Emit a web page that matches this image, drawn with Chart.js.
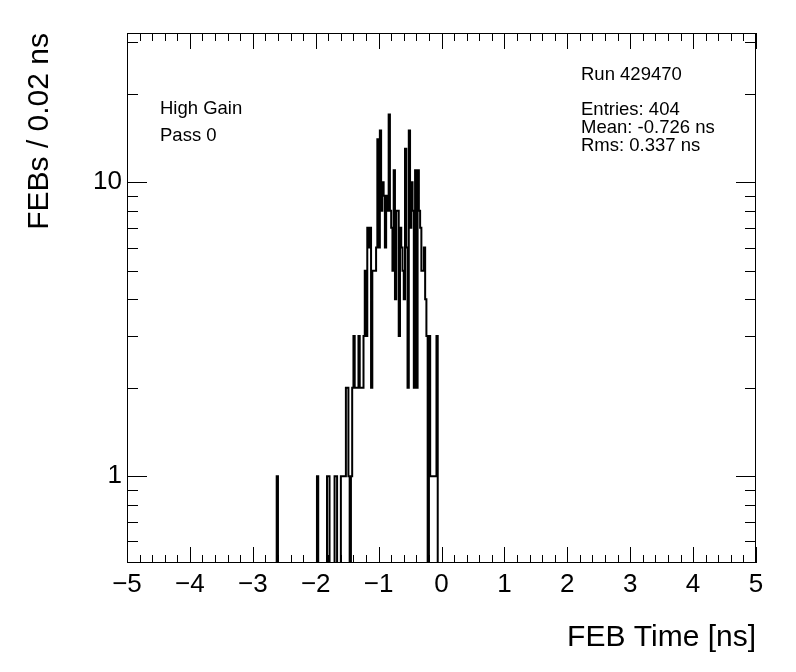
<!DOCTYPE html>
<html lang="en">
<head>
<meta charset="UTF-8">
<title>FEB Time</title>
<script src="https://cdn.jsdelivr.net/npm/chart.js"></script>
<style>
  html, body { margin: 0; padding: 0; background: #fff; }
  #wrap { width: 796px; height: 672px; }
</style>
</head>
<body>
<div id="wrap"><canvas id="febChart" width="796" height="672"></canvas></div>
<script>
// FEB time histogram, 0.02 ns bins. Counts listed from the bin with low edge firstEdge.
const binWidth = 0.02;
const firstEdge = -2.60;
const febCounts = [
  1,                                                    // -2.60
  0,0,0,0,0,0,0,0,0,0, 0,0,0,0,0,0,0,0,0,0, 0,0,0,0,0,0,0,0,0,0, 0,  // -2.58 .. -1.98
  1, 0,0,0,0,0,0,0,                                     // -1.96 .. -1.82
  1, 1, 0,0,0,0,                                        // -1.80 .. -1.70
  1, 1, 0,0,0,                                          // -1.68 .. -1.60
  1,1,1,1,2,2,1,0,1,2,3,2,2,2,3,                        // -1.58 .. -1.30
  2,2,2,3,5,3,7,6,                                      // -1.28 .. -1.14
  7,2,5,5,5,6,14,6,                                     // -1.12 .. -0.98
  15,8,10,9,6,9,8,17,                                   // -0.96 .. -0.82
  8,7,5,11,4,8,8,3,                                     // -0.80 .. -0.66
  7,6,5,4,13,6,2,15,                                    // -0.64 .. -0.50
  7,10,8,2,11,2,11,8,                                   // -0.48 .. -0.34
  7,5,5,6,4,3,0,                                        // -0.32 .. -0.20
  3,1,1,1,1,1,3                                         // -0.18 .. -0.06
];

const xRange = [-5, 5];
const yRange = [0.507, 32.2];
const xTickValues = [-5, -4, -3, -2, -1, 0, 1, 2, 3, 4, 5];
const yTickValues = [1, 10];
const labelLines = ["High Gain", "Pass 0"];
const statLines = ["Run 429470", "Entries: 404", "Mean: -0.726 ns", "Rms: 0.337 ns"];

const FONT = '"Liberation Sans", Arial, Helvetica, sans-serif';
// log axis can't show 0, so empty bins are drawn at a value below the frame (clipped)
const EMPTY_BIN = 0.1;

// step points at each bin low edge over the full axis
const nBins = Math.round((xRange[1] - xRange[0]) / binWidth);
const points = [];
for (let i = 0; i < nBins; i++) {
  const edge = xRange[0] + i * binWidth;
  const k = Math.round((edge - firstEdge) / binWidth);
  const n = (k >= 0 && k < febCounts.length) ? febCounts[k] : 0;
  points.push({ x: edge, y: n > 0 ? n : EMPTY_BIN });
}
points.push({ x: xRange[1], y: EMPTY_BIN });

const fmt = v => (v < 0 ? "\u2212" + Math.abs(v) : String(v));

// ROOT-like frame with inner ticks on all four sides, plus the text boxes
const rootFrame = {
  id: "rootFrame",
  afterDraw(chart) {
    const { ctx, chartArea: a, scales } = chart;
    const x = scales.x, y = scales.y;
    ctx.save();
    ctx.strokeStyle = "#000";
    ctx.lineWidth = 1;
    ctx.strokeRect(a.left + 0.5, a.top + 0.5, a.right - a.left - 1, a.bottom - a.top - 1);

    ctx.beginPath();
    for (let k = xRange[0] * 5; k <= xRange[1] * 5; k++) {
      const v = k / 5;
      const len = k % 5 === 0 ? 16 : 8;
      const px = Math.round(x.getPixelForValue(v)) + 0.5;
      ctx.moveTo(px, a.bottom); ctx.lineTo(px, a.bottom - len);
      ctx.moveTo(px, a.top); ctx.lineTo(px, a.top + len);
    }
    for (const dec of [0.1, 1, 10]) {
      for (let m = 1; m <= 9; m++) {
        const v = m * dec;
        if (v < yRange[0] || v > yRange[1]) continue;
        const len = m === 1 ? 20 : 11;
        const py = Math.round(y.getPixelForValue(v)) + 0.5;
        ctx.moveTo(a.left, py); ctx.lineTo(a.left + len, py);
        ctx.moveTo(a.right, py); ctx.lineTo(a.right - len, py);
      }
    }
    ctx.stroke();

    ctx.fillStyle = "#000";
    ctx.font = "18.5px " + FONT;
    ctx.textBaseline = "alphabetic";
    ctx.textAlign = "left";
    ctx.fillText(labelLines[0], 160, 114);
    ctx.fillText(labelLines[1], 160, 141);
    ctx.fillText(statLines[0], 581, 80);
    ctx.fillText(statLines[1], 581, 115);
    ctx.fillText(statLines[2], 581, 133);
    ctx.fillText(statLines[3], 581, 151);
    ctx.restore();
  }
};

new Chart(document.getElementById("febChart").getContext("2d"), {
  type: "line",
  data: {
    datasets: [{
      data: points,
      borderColor: "#000",
      borderWidth: 2,
      pointRadius: 0,
      stepped: "after",
      fill: false,
      tension: 0
    }]
  },
  options: {
    responsive: false,
    animation: false,
    devicePixelRatio: 1,
    layout: { padding: { left: 0, right: 40, top: 33, bottom: 0 } },
    plugins: { legend: { display: false }, tooltip: { enabled: false } },
    scales: {
      x: {
        type: "linear",
        min: xRange[0],
        max: xRange[1],
        afterFit: s => { s.height = 109; },
        afterBuildTicks: s => { s.ticks = xTickValues.map(v => ({ value: v })); },
        grid: { display: false, drawTicks: false },
        border: { display: false },
        ticks: {
          color: "#000",
          font: { family: FONT, size: 26 },
          padding: 6,
          maxRotation: 0,
          autoSkip: false,
          callback: v => fmt(v)
        },
        title: {
          display: true,
          text: "FEB Time [ns]",
          align: "end",
          color: "#000",
          font: { family: FONT, size: 30 },
          padding: { top: 0, bottom: 16 }
        }
      },
      y: {
        type: "logarithmic",
        min: yRange[0],
        max: yRange[1],
        afterFit: s => { s.width = 127; },
        afterBuildTicks: s => { s.ticks = yTickValues.map(v => ({ value: v })); },
        grid: { display: false, drawTicks: false },
        border: { display: false },
        ticks: {
          color: "#000",
          font: { family: FONT, size: 26 },
          padding: 5,
          autoSkip: false,
          callback: v => String(v)
        },
        title: {
          display: true,
          text: "FEBs / 0.02 ns",
          align: "end",
          color: "#000",
          font: { family: FONT, size: 30 },
          padding: { top: 22, bottom: 0 }
        }
      }
    }
  },
  plugins: [rootFrame]
});
</script>
</body>
</html>
